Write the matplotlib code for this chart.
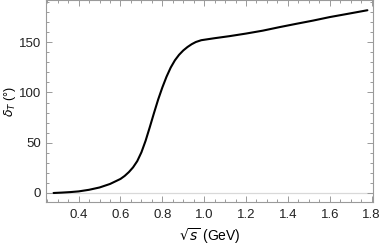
import numpy as np
import matplotlib.pyplot as plt
from matplotlib.ticker import MultipleLocator

# phase shift
sqrt_s = [0.28, 0.32, 0.36, 0.40, 0.45, 0.50, 0.55, 0.60, 0.62, 0.64, 0.66,
          0.68, 0.70, 0.72, 0.74, 0.76, 0.78, 0.80, 0.82, 0.84, 0.86, 0.88,
          0.90, 0.92, 0.94, 0.96, 0.986, 1.05, 1.12, 1.20, 1.28, 1.36, 1.44,
          1.52, 1.60, 1.68, 1.78]
delta_T = [0.0, 0.4, 0.9, 1.6, 3.2, 5.5, 9.0, 14.0, 17.0, 20.8, 25.5,
           31.7, 40.5, 52.0, 65.5, 79.5, 93.0, 105.0, 115.7, 124.8, 132.0, 137.5,
           141.8, 145.2, 148.0, 150.2, 152.0, 154.0, 156.0, 158.6, 161.5, 165.0, 168.3,
           171.5, 175.0, 178.0, 181.8]

x_ticks = [0.4, 0.6, 0.8, 1.0, 1.2, 1.4, 1.6, 1.8]
y_ticks = [0, 50, 100, 150]

plt.rcParams['font.family'] = ['Liberation Sans', 'DejaVu Sans']
plt.rcParams['mathtext.fontset'] = 'dejavusans'

fig = plt.figure(figsize=(3.82, 2.47), dpi=100)
ax = fig.add_axes([0.121, 0.182, 0.855, 0.816])

ax.axhline(0, color='#d9d9d9', lw=0.9, zorder=1)
ax.plot(sqrt_s, delta_T, color='black', lw=1.5, zorder=3,
        solid_capstyle='round', solid_joinstyle='round')

ax.set_xlim(0.245, 1.806)
ax.set_ylim(-9, 191.5)
ax.set_xticks(x_ticks)
ax.set_yticks(y_ticks)
ax.xaxis.set_minor_locator(MultipleLocator(0.05))
ax.yaxis.set_minor_locator(MultipleLocator(10))
ax.set_xticklabels([f'{v:.1f}' for v in x_ticks])

for s in ax.spines.values():
    s.set_color('#9a9a9a')
    s.set_linewidth(0.8)

ax.tick_params(which='both', direction='in', top=True, right=True,
               color='#9a9a9a', width=0.7, labelsize=9.5, labelcolor='#222222')
ax.tick_params(which='major', length=4)
ax.tick_params(which='minor', length=2)
ax.tick_params(axis='x', pad=5)

ax.set_xlabel(r'$\sqrt{s}$ (GeV)', fontsize=10, labelpad=4)
ax.set_ylabel(r'$\delta_T$ (°)', fontsize=9, labelpad=1)

fig.savefig('out.png', dpi=100)
